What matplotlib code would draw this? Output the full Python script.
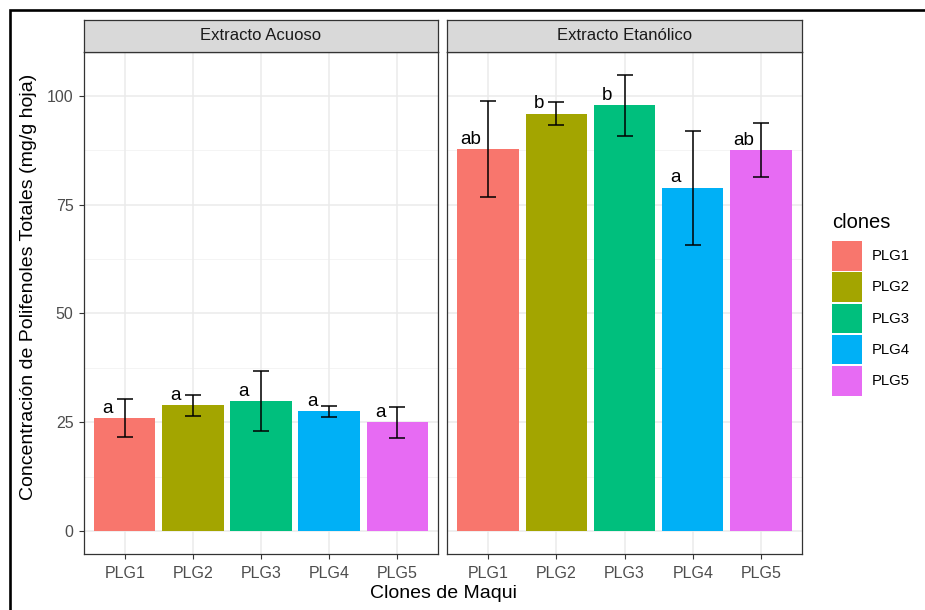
import numpy as np
import matplotlib
matplotlib.use('Agg')
import matplotlib.pyplot as plt
from matplotlib.patches import Rectangle

plt.rcParams['font.family'] = ['Liberation Sans', 'DejaVu Sans']

# Datos: media y desviacion por clon y tipo de extracto
clones = ['PLG1', 'PLG2', 'PLG3', 'PLG4', 'PLG5']
extractos = ['Extracto Acuoso', 'Extracto Etanólico']
media_acuoso = [26.0, 28.9, 29.8, 27.5, 25.0]
sd_acuoso = [4.4, 2.4, 6.9, 1.2, 3.6]
media_etanol = [87.7, 95.9, 97.8, 78.9, 87.5]
sd_etanol = [11.0, 2.6, 7.0, 13.1, 6.2]
letras_acuoso = ['a', 'a', 'a', 'a', 'a']
letras_etanol = ['ab', 'b', 'b', 'a', 'ab']

colores = ['#F8766D', '#A3A500', '#00BF7D', '#00B0F6', '#E76BF3']

W, H = 925, 610
fig = plt.figure(figsize=(W / 100, H / 100), dpi=100)

# limites en y como ggplot (expansion del 5%)
ymax = max(max(np.array(media_etanol) + np.array(sd_etanol)),
           max(np.array(media_acuoso) + np.array(sd_acuoso)))
pad = 0.05 * ymax
ylim = (-pad, ymax + pad)

paneles = [(84, 438), (447, 802)]
datos = [(media_acuoso, sd_acuoso, letras_acuoso),
         (media_etanol, sd_etanol, letras_etanol)]
p_top, p_bot, s_top = 52, 554, 20
x = np.arange(1, len(clones) + 1)

for k, ((xl, xr), (med, sd, let)) in enumerate(zip(paneles, datos)):
    ax = fig.add_axes([xl / W, (H - p_bot) / H, (xr - xl) / W, (p_bot - p_top) / H])
    ax.set_xlim(0.4, 5.6)
    ax.set_ylim(*ylim)
    # rejilla
    for yv in [0, 25, 50, 75, 100]:
        ax.axhline(yv, color='#EBEBEB', lw=1.1, zorder=0)
    for yv in [12.5, 37.5, 62.5, 87.5]:
        ax.axhline(yv, color='#F2F2F2', lw=0.6, zorder=0)
    for xv in x:
        ax.axvline(xv, color='#EBEBEB', lw=1.1, zorder=0)

    ax.bar(x, med, width=0.9, color=colores, zorder=2)
    ax.errorbar(x, med, yerr=sd, fmt='none', ecolor='black', elinewidth=1.1,
                capsize=5.5, capthick=1.1, zorder=3)
    for xi, m, t in zip(x, med, let):
        ax.annotate(t, (xi - 0.25, m), xytext=(0, 1.0), textcoords='offset points',
                    ha='center', va='bottom', fontsize=13.5, color='black', zorder=4)

    ax.set_xticks(x)
    ax.set_xticklabels(clones)
    ax.set_yticks([0, 25, 50, 75, 100])
    ax.tick_params(axis='both', length=3.5, width=0.8, color='#333333',
                   labelcolor='#4D4D4D', labelsize=11.5)
    ax.tick_params(axis='x', pad=5.5)
    ax.tick_params(axis='y', pad=4)
    if k == 1:
        ax.tick_params(axis='y', left=False, labelleft=False)
    for s in ax.spines.values():
        s.set_color('#333333')
        s.set_linewidth(0.9)

    # franja del facet
    st = fig.add_axes([xl / W, (H - p_top) / H, (xr - xl) / W, (p_top - s_top) / H])
    st.set_facecolor('#D9D9D9')
    st.set_xticks([])
    st.set_yticks([])
    for s in st.spines.values():
        s.set_color('#333333')
        s.set_linewidth(0.9)
    st.text(0.5, 0.5, extractos[k], ha='center', va='center',
            fontsize=12, color='#1A1A1A', transform=st.transAxes)

fig.text(443 / W, (H - 594) / H, 'Clones de Maqui', ha='center', va='center',
         fontsize=14, color='black')
fig.text(29 / W, (H - 287) / H, 'Concentración de Polifenoles Totales (mg/g hoja)',
         ha='center', va='center', rotation=90, fontsize=14, color='black')

# leyenda dibujada a mano (cuadros de 30 px)
fig.text(832 / W, (H - 222) / H, 'clones', ha='left', va='center',
         fontsize=14.5, color='black')
for i, (c, nombre) in enumerate(zip(colores, clones)):
    top = 241 + i * 31.3
    fig.add_artist(Rectangle((832 / W, (H - top - 29.5) / H), 30 / W, 29.5 / H,
                             transform=fig.transFigure, facecolor=c,
                             edgecolor='none'))
    fig.text(872 / W, (H - top - 15) / H, nombre, ha='left', va='center',
             fontsize=10.7, color='black')

# marco exterior
fig.add_artist(Rectangle((10 / W, -0.05), 1.1, (H - 9.5) / H + 0.05,
                         transform=fig.transFigure, fill=False,
                         edgecolor='black', lw=1.9))

fig.savefig('out.png', dpi=100)
